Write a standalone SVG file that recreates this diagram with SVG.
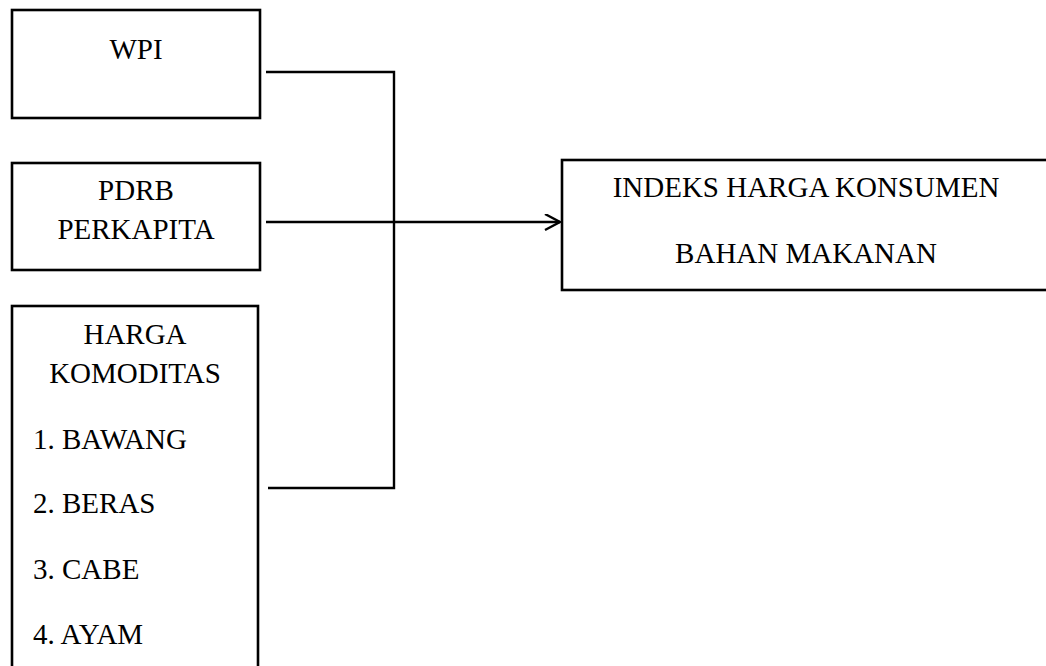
<svg xmlns="http://www.w3.org/2000/svg" width="1046" height="666" viewBox="0 0 1046 666">
<defs>
<style>
.box{fill:#fff;stroke:#000;stroke-width:2.6}
.t{font-family:"Liberation Serif","Times New Roman",serif;font-size:29px;fill:#000}
.c{text-anchor:middle}
.ln{fill:none;stroke:#000;stroke-width:2.4}
</style>
<marker id="arr" markerWidth="20" markerHeight="20" refX="16" refY="8" orient="auto" markerUnits="userSpaceOnUse">
<path d="M1,0 L16,8 L1,16" fill="none" stroke="#000" stroke-width="2.4"/>
</marker>
</defs>
<rect width="1046" height="666" fill="#fff"/>
<g id="wpi">
<rect class="box" x="12" y="10" width="248" height="108"/>
<text class="t c" x="136" y="59">WPI</text>
</g>
<g id="pdrb">
<rect class="box" x="12" y="163" width="248" height="107"/>
<text class="t c" x="136" y="200">PDRB</text>
<text class="t c" x="136" y="239">PERKAPITA</text>
</g>
<g id="harga">
<rect class="box" x="12" y="306" width="246" height="380"/>
<text class="t c" x="135" y="344">HARGA</text>
<text class="t c" x="135" y="383">KOMODITAS</text>
<text class="t" x="33" y="449">1. BAWANG</text>
<text class="t" x="33" y="513">2. BERAS</text>
<text class="t" x="33" y="579">3. CABE</text>
<text class="t" x="33" y="644">4. AYAM</text>
</g>
<g id="ihk">
<rect class="box" x="562" y="160" width="500" height="130"/>
<text class="t c" x="806" y="197">INDEKS HARGA KONSUMEN</text>
<text class="t c" x="806" y="263">BAHAN MAKANAN</text>
</g>
<g id="connectors">
<path class="ln" d="M266,72 H394 V488 H268"/>
<path class="ln" d="M266,222 H560" marker-end="url(#arr)"/>
</g>
</svg>
